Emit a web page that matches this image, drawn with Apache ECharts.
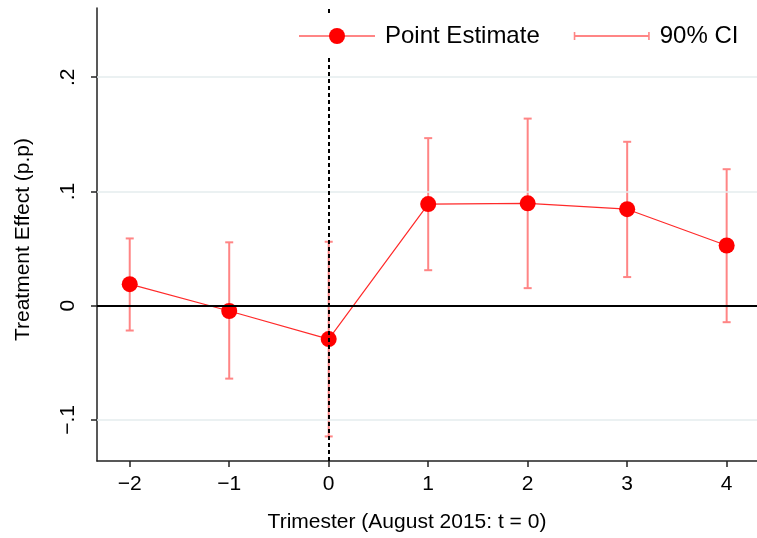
<!DOCTYPE html>
<html>
<head>
<meta charset="utf-8">
<script src="https://cdn.jsdelivr.net/npm/echarts@6/dist/echarts.min.js"></script>
<style>
  html, body { margin: 0; padding: 0; background: #fff; overflow: hidden; }
  #chart { width: 757px; height: 538px; }
</style>
</head>
<body>
<div id="chart"></div>
<script>
// Event-study estimates by trimester relative to August 2015 (t = 0)
const trimesters = [-2, -1, 0, 1, 2, 3, 4];
const pointEstimate = [0.0189, -0.0046, -0.0292, 0.0890, 0.0896, 0.0845, 0.0527];
const ciLower = [-0.0217, -0.0638, -0.1144, 0.0311, 0.0154, 0.0251, -0.0144];
const ciUpper = [0.0589, 0.0555, 0.0560, 0.1467, 0.1638, 0.1435, 0.1195];

const xTicks = [-2, -1, 0, 1, 2, 3, 4];
const yTicks = [-0.1, 0, 0.1, 0.2];
const gridValues = [-0.1, 0.1, 0.2];
const eventTime = 0;

const FONT = '"Liberation Sans", Arial, Helvetica, sans-serif';
const CI_COLOR = '#ff8585';
const MINUS = '\u2212';

function fmtY(v) {
  if (Math.abs(v) < 1e-9) return '0';
  const s = String(Math.abs(Math.round(v * 10) / 10)).replace(/^0/, '');
  return (v < 0 ? MINUS : '') + s;
}
function fmtX(v) {
  return (v < 0 ? MINUS : '') + Math.abs(v);
}

const pointData = trimesters.map((t, i) => [t, pointEstimate[i]]);
const ciData = trimesters.map((t, i) => [t, ciLower[i], ciUpper[i]]);

// Legend glyph for the interval: a horizontal bar with end caps
const CI_ICON = 'path://M0,0 L1.6,0 L1.6,3 L74.4,3 L74.4,0 L76,0 L76,8 L74.4,8 L74.4,5 L1.6,5 L1.6,8 L0,8 Z';

const chart = echarts.init(document.getElementById('chart'), null, { renderer: 'canvas' });

chart.setOption({
  animation: false,
  backgroundColor: '#ffffff',
  textStyle: { fontFamily: FONT },
  grid: { left: 97, right: 0, top: 8, height: 456, containLabel: false },
  legend: {
    left: 288,
    top: 15,
    padding: [9, 10, 9, 10],
    backgroundColor: '#ffffff',
    itemGap: 34,
    itemWidth: 76,
    itemHeight: 20,
    textStyle: { fontSize: 24, color: '#000', fontFamily: FONT, padding: [0, 0, 0, 5] },
    data: [
      { name: 'Point Estimate', lineStyle: { color: CI_COLOR, width: 2 } },
      { name: '90% CI', icon: CI_ICON, itemStyle: { color: CI_COLOR } }
    ],
    z: 20
  },
  xAxis: {
    type: 'value',
    min: -2.329,
    max: 4.305,
    name: 'Trimester (August 2015: t = 0)',
    nameLocation: 'middle',
    nameGap: 51,
    nameTextStyle: { fontSize: 21, color: '#000', fontFamily: FONT, padding: [0, 40, 0, 0] },
    axisLine: { show: true, onZero: false, lineStyle: { color: '#222', width: 1.5 } },
    axisTick: { show: true, length: 6, customValues: xTicks, lineStyle: { color: '#222', width: 1.5 } },
    axisLabel: { customValues: xTicks, formatter: fmtX, fontSize: 21, color: '#000', margin: 13, fontFamily: FONT },
    splitLine: { show: false }
  },
  yAxis: {
    type: 'value',
    min: -0.1359,
    max: 0.2606,
    name: 'Treatment Effect (p.p)',
    nameLocation: 'middle',
    nameGap: 63,
    nameTextStyle: { fontSize: 21, color: '#000', fontFamily: FONT, padding: [0, 10, 0, 0] },
    axisLine: { show: true, onZero: false, lineStyle: { color: '#222', width: 1.5 } },
    axisTick: { show: true, length: 6, customValues: yTicks, lineStyle: { color: '#222', width: 1.5 } },
    axisLabel: { customValues: yTicks, formatter: fmtY, rotate: 90, fontSize: 21, color: '#000', margin: 18, fontFamily: FONT },
    splitLine: { show: false }
  },
  series: [
    {
      // Background gridlines and the zero reference line
      name: 'guides',
      type: 'line',
      data: [],
      z: 1,
      silent: true,
      markLine: {
        silent: true,
        symbol: ['none', 'none'],
        label: { show: false },
        animation: false,
        data: gridValues.map(v => ({ yAxis: v, lineStyle: { color: '#e4ecee', width: 1.5, type: 'solid' } }))
          .concat([{ yAxis: 0, lineStyle: { color: '#000', width: 2, type: 'solid' } }])
      }
    },
    {
      name: '90% CI',
      type: 'custom',
      z: 2,
      data: ciData,
      encode: { x: 0, y: [1, 2] },
      renderItem: function (params, api) {
        const x = api.value(0);
        const lo = api.coord([x, api.value(1)]);
        const hi = api.coord([x, api.value(2)]);
        const cap = 4;
        const style = { stroke: CI_COLOR, lineWidth: 2 };
        return {
          type: 'group',
          children: [
            { type: 'line', shape: { x1: lo[0], y1: lo[1], x2: hi[0], y2: hi[1] }, style: style },
            { type: 'line', shape: { x1: lo[0] - cap, y1: lo[1], x2: lo[0] + cap, y2: lo[1] }, style: style },
            { type: 'line', shape: { x1: hi[0] - cap, y1: hi[1], x2: hi[0] + cap, y2: hi[1] }, style: style }
          ]
        };
      }
    },
    {
      // Dashed marker for the event date
      name: 'event',
      type: 'line',
      data: [],
      z: 3,
      silent: true,
      markLine: {
        silent: true,
        symbol: ['none', 'none'],
        label: { show: false },
        animation: false,
        data: [{ xAxis: eventTime, lineStyle: { color: '#000', width: 2, type: [4, 3] } }]
      }
    },
    {
      name: 'Point Estimate',
      type: 'line',
      z: 4,
      data: pointData,
      symbol: 'circle',
      symbolSize: 16,
      showSymbol: true,
      itemStyle: { color: '#ff0000' },
      lineStyle: { color: '#ff2a2a', width: 1.2 }
    }
  ]
});
</script>
</body>
</html>
